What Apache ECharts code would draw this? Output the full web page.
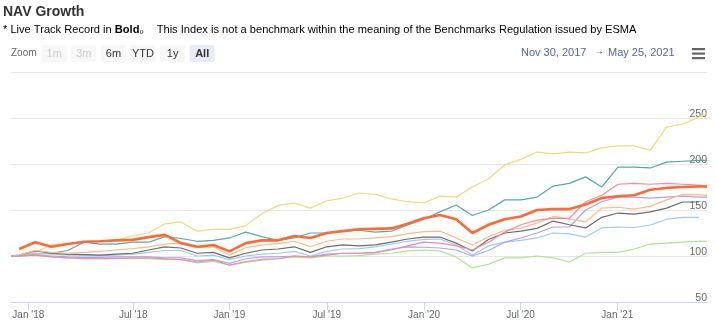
<!DOCTYPE html>
<html>
<head>
<meta charset="utf-8">
<script src="https://cdn.jsdelivr.net/npm/echarts@6/dist/echarts.min.js"></script>
<style>
html,body{margin:0;padding:0;background:#fff;}
#chart{width:717px;height:335px;}
</style>
</head>
<body>
<div id="chart"></div>
<script>
// ordinal x positions: start point, month-end points (m0..m42), final point
const xPositions = [0].concat(Array.from({length:43},(_, k)=>k+0.5)).concat([43]);
const tickPositions = [1.07, 7.55, 13.49, 19.51, 25.52, 31.48, 37.46];
const tickLabels = ["Jan '18","Jul '18","Jan '19","Jul '19","Jan '20","Jul '20","Jan '21"];

const yellow = [100, 100.5,104,112,113.5,115,116,117,122,125,135,137,127,129,129,133,146,155,157.6,152,160,163,168.5,167,162,159,157.6,165,164,175,184,199,205,213,211,213,212,217.6,219.6,219.6,215,240,243.5,251, 255];
const teal = [100, 100,102,103,106,115,113,113,115,115,121,119,116,117,119.6,126,121,117,119.6,125,125,127,128,126,127,133.7,140,148,155.5,144,150,161,161,164,176,179,186,175,196.7,196.7,195.7,202,203,204, 204];
const pink = [100, 100,101,99,98,97,97,97.5,98,98,97,96,93.5,95.6,90,94,96.5,97,100,99,101,103,103,103.5,106.5,111,115,114,111,106.5,115,126,134,139,141,141,159,166,178,179,178,179,178,177, 176];
const lightOrange = [100, 101,106,104,103,104,105,106.5,108,110,113,114,109,110,101,109,112,113.5,116,110,116,118.5,118.5,119.6,121,124,126.5,127,119.6,112,121,128,130,136,143,140,137,152,153,151,154,161,167,166.5, 166];
const gray = [100, 101,105.5,103,102,101.5,101,102,103,106.5,110,108.7,103,104,98,103,106.5,107.6,110,104,110,112,111,112,115,118.5,120.6,120.6,114,105.5,118,125,127,130,138,134,130.5,142,146.7,145.6,148,152,158.7,158.7, null];
const lavender = [100, 100,101,100,99,98.5,98.5,99,99,99,98,98,95,96,92,97,99,99,100,99,102,103,103,104,107.6,110,109.5,108.7,106.5,100,106,115,119.6,125,131.5,131.5,150,159,164,164,163,164,165,164, 164];
const lightBlue = [100, 100.5,103,102,101,101,100.5,101,102,104,106,106,100,101,96,100,102,103,105,100,105,107.6,108,110,113,116,118,118.5,112,101,111,115,117,119.6,125,124,120.6,130.5,131.5,131,133.7,140,142,142, null];
const green = [100, 100,101,99,98,97.5,97,97,97.5,97,96,96,92.5,94,90,93,95.6,97,99,98,100,100,100.5,102,103,105.5,106.5,105.5,99,87,91,98,98,100,98,93.5,103,104,104,107.6,113,114,115,116, 116];
const liveTrack = [null, 107.6,115,110,113,115.5,116,117,117.5,120.5,123,114,110,112,105,114,117,117,121.7,119.6,125,127,129,129.5,130,135,141,144.6,140,125,134,140,143,150,151,151,156,163,165,166,172,174,175,175.5, 175.5];

const seriesDefs = [
  {name:'Yellow', data:yellow, color:'#f0d97c', width:1.2},
  {name:'Teal', data:teal, color:'#58a8a2', width:1.2},
  {name:'Green', data:green, color:'#a9e596', width:1.2},
  {name:'Light blue', data:lightBlue, color:'#9fc9f3', width:1.2},
  {name:'Lavender', data:lavender, color:'#a5a5f5', width:1.2},
  {name:'Gray', data:gray, color:'#6b6b6b', width:1.2},
  {name:'Light orange', data:lightOrange, color:'#ffb988', width:1.2},
  {name:'Pink', data:pink, color:'#f7899f', width:1.2},
  {name:'Live', data:liveTrack, color:'#ff6a36', width:2.6}
];

const FONT = "'Liberation Sans', Arial, 'Noto Sans CJK SC', sans-serif";
const chart = echarts.init(document.getElementById('chart'), null, {renderer:'canvas'});

const buttons = [
  {t:'1m', x:41.7, state:'disabled'},
  {t:'3m', x:71.3, state:'disabled'},
  {t:'6m', x:100.9, state:'normal'},
  {t:'YTD', x:130.5, state:'normal'},
  {t:'1y', x:160.1, state:'normal'},
  {t:'All', x:189.7, state:'selected'}
];
const graphics = [
  {type:'text', left:3, top:5, style:{text:'NAV Growth', font:"bold 14px "+FONT, fill:'#333'}},
  {type:'text', left:3, top:24, style:{
    text:'{a|* Live Track Record in }{b|Bold}{a|。  This Index is not a benchmark within the meaning of the Benchmarks Regulation issued by ESMA}',
    rich:{a:{fontSize:11.1, fontFamily:FONT, color:'#333'}, b:{fontSize:11.1, fontFamily:FONT, fontWeight:'bold', color:'#333'}}
  }},
  {type:'text', left:11, top:48, style:{text:'Zoom', font:"10px "+FONT, fill:'#666'}},
  {type:'text', left:521, top:47, style:{text:'Nov 30, 2017', font:"11px "+FONT, fill:'#4d64a8'}},
  {type:'text', left:594, top:46, style:{text:'→', font:"10px "+FONT, fill:'#333'}},
  {type:'text', left:608, top:47, style:{text:'May 25, 2021', font:"11px "+FONT, fill:'#4d64a8'}},
  {type:'rect', shape:{x:692, y:48, width:13, height:2.2}, style:{fill:'#666'}},
  {type:'rect', shape:{x:692, y:52.5, width:13, height:2.2}, style:{fill:'#666'}},
  {type:'rect', shape:{x:692, y:57, width:13, height:2.2}, style:{fill:'#666'}}
];
buttons.forEach(b => {
  graphics.push({type:'rect', shape:{x:b.x, y:45, width:25, height:17, r:2},
    style:{fill: b.state==='selected' ? '#e6ebf5' : '#f7f7f7'}});
  graphics.push({type:'text', x:b.x+12.5, y:53.5, style:{text:b.t, align:'center', verticalAlign:'middle',
    font:(b.state==='selected'?'bold ':'')+"11px "+FONT, fill: b.state==='disabled' ? '#cccccc' : '#333'}});
});

chart.setOption({
  animation:false,
  backgroundColor:'#fff',
  grid:{left:11, right:10, top:72, bottom:33, containLabel:false},
  xAxis:{
    type:'value', min:0, max:43,
    splitLine:{show:false},
    axisLine:{show:true, lineStyle:{color:'#ccd6eb', width:1}},
    axisTick:{show:true, customValues:tickPositions, length:8, lineStyle:{color:'#ccd6eb'}},
    axisLabel:{customValues:tickPositions, color:'#666', fontSize:10, fontFamily:FONT, margin:8,
      formatter:(v)=>{ const i = tickPositions.findIndex(t=>Math.abs(t-v)<1e-6); return i>=0 ? tickLabels[i] : ''; }}
  },
  yAxis:{
    type:'value', min:50, max:300, interval:50, position:'right',
    axisLine:{show:false}, axisTick:{show:false},
    splitLine:{show:true, lineStyle:{color:'#e6e6e6', width:1}},
    axisLabel:{inside:true, showMaxLabel:false, color:'#666', fontSize:10.5, fontFamily:FONT,
      verticalAlign:'bottom', lineHeight:8, margin:0, padding:[0,0,0,0]}
  },
  series: seriesDefs.map((s,i)=>({
    type:'line', name:s.name, showSymbol:false, symbol:'none', z:2+i,
    data: s.data.map((v,k)=>[xPositions[k], v]).filter(p=>p[1]!==null),
    lineStyle:{color:s.color, width:s.width}, itemStyle:{color:s.color}
  })),
  graphic: graphics
});
</script>
</body>
</html>
